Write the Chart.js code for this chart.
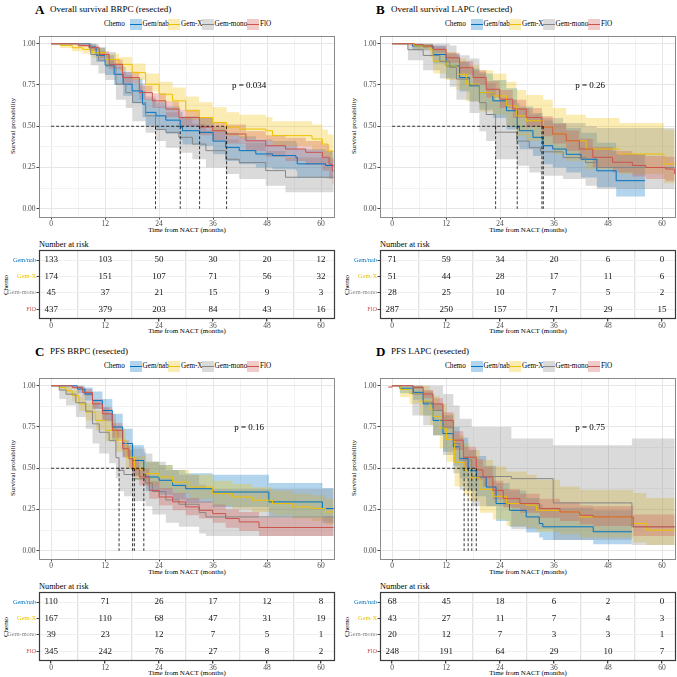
<!DOCTYPE html>
<html><head><meta charset="utf-8">
<script src="https://cdn.jsdelivr.net/npm/chart.js@4.4.1/dist/chart.umd.min.js"></script>
<style>
html,body{margin:0;padding:0;background:#fff;}
body{width:677px;height:677px;position:relative;overflow:hidden;font-family:"Liberation Serif","Times New Roman",serif;color:#000;}
.q{position:absolute;width:338px;height:340px;}
.t{position:absolute;white-space:nowrap;line-height:1;}
canvas{position:absolute;}
</style></head><body>
<script>
// ---------- categories & tick labels ----------
const SERIES = ['Gem/nab', 'Gem-X', 'Gem-mono', 'FlO'];
const KM_X_TICKS = [0, 6, 12, 18, 24, 30, 36, 42, 48, 54, 60];
const KM_Y_TICKS = [0, 0.125, 0.25, 0.375, 0.5, 0.625, 0.75, 0.875, 1];
const RISK_TIMES = [0, 12, 24, 36, 48, 60];
const P_VALUES = ['p = 0.034', 'p = 0.26', 'p = 0.16', 'p = 0.75'];

// ---------- Panel A: Overall survival BRPC ----------
const A_nab_t  = [0, 8.5, 10, 12, 14, 16, 18, 20.3, 21, 23.3, 25.5, 28.7, 29.2, 33, 36, 38.8, 41.8, 45.5, 49.2, 54.4, 54.7, 61, 62.8];
const A_nab_s  = [1, .98, .93, .87, .815, .755, .714, .634, .584, .563, .537, .495, .473, .463, .41, .372, .352, .332, .322, .312, .272, .262, .262];
const A_nab_lo = [1, .955, .89, .81, .75, .685, .64, .555, .505, .48, .455, .415, .39, .38, .33, .29, .27, .25, .24, .23, .19, .185, .185];
const A_nab_hi = [1, 1, .975, .93, .88, .83, .79, .715, .665, .645, .62, .585, .56, .55, .495, .46, .44, .42, .41, .40, .36, .35, .35];
const A_gx_t   = [0, 2, 4.7, 7, 9.2, 12.1, 15.1, 18, 21, 24, 27, 29.9, 32.9, 35.9, 39, 41.8, 47.7, 49.2, 58, 60.3, 61.5, 62.8];
const A_gx_s   = [1, .99, .976, .966, .946, .905, .875, .825, .755, .694, .654, .594, .553, .523, .495, .483, .473, .443, .423, .392, .35, .35];
const A_gx_lo  = [1, .975, .955, .94, .915, .87, .835, .78, .71, .645, .60, .54, .50, .465, .44, .425, .41, .38, .355, .32, .28, .28];
const A_gx_hi  = [1, 1, .995, .99, .975, .94, .92, .88, .82, .77, .735, .68, .645, .615, .585, .57, .555, .53, .51, .48, .45, .45];
const A_mono_t = [0, 8.8, 10.5, 12.1, 14.4, 16.6, 18.1, 21, 23.2, 25.5, 28.4, 31.4, 34.4, 38.8, 41.8, 47.7, 52.1, 62.8];
const A_mono_s = [1, .935, .90, .865, .755, .704, .644, .563, .48, .463, .433, .392, .352, .30, .28, .231, .191, .191];
const A_mono_lo= [1, .87, .82, .78, .66, .61, .53, .46, .41, .37, .34, .30, .25, .21, .18, .14, .10, .10];
const A_mono_hi= [1, 1, .98, .95, .86, .81, .76, .68, .62, .585, .555, .515, .475, .42, .40, .35, .31, .31];
const A_flo_t  = [0, 6, 8.4, 10.7, 12.9, 15.9, 19.6, 22.5, 25.5, 28.4, 33, 35.9, 38.8, 43.3, 47.7, 52.1, 56.6, 60.3, 61.8, 62.5, 62.8];
const A_flo_s  = [1, .99, .976, .935, .875, .795, .704, .654, .604, .553, .495, .473, .453, .412, .382, .362, .342, .312, .27, .23, .23];
const A_flo_lo = [1, .98, .96, .91, .845, .76, .66, .61, .555, .50, .445, .415, .395, .35, .315, .29, .265, .23, .18, .15, .15];
const A_flo_hi = [1, 1, .99, .955, .905, .83, .745, .70, .65, .60, .55, .525, .51, .47, .445, .43, .41, .39, .35, .30, .30];
const A_medians = [28.7, 39, 23.2, 33];
const A_risk_nab = [133, 103, 50, 30, 20, 12];
const A_risk_gx = [174, 151, 107, 71, 56, 32];
const A_risk_mono = [45, 37, 21, 15, 9, 3];
const A_risk_flo = [437, 379, 203, 84, 43, 16];

// ---------- Panel B: Overall survival LAPC ----------
const B_nab_t  = [0, 4.5, 9.1, 12, 15, 17.2, 19.4, 22.4, 25.4, 27.8, 28.3, 31.3, 33.5, 35.7, 38.7, 42, 45.5, 49.8, 56.2];
const B_nab_s  = [1, .986, .935, .865, .795, .745, .704, .654, .594, .495, .473, .433, .382, .362, .33, .30, .23, .17, .17];
const B_nab_lo = [1, .96, .88, .79, .71, .65, .60, .55, .48, .39, .36, .32, .27, .25, .22, .19, .13, .075, .075];
const B_nab_hi = [1, 1, .99, .94, .89, .85, .82, .78, .73, .64, .62, .58, .535, .52, .49, .46, .40, .33, .33];
const B_gx_t   = [0, 5, 8.4, 9.1, 12, 14.3, 16.5, 19.4, 22.4, 25.4, 27.6, 29.8, 33.6, 35.7, 38.7, 43.1, 50.5, 60.4, 62.8];
const B_gx_s   = [1, .986, .966, .895, .865, .815, .755, .704, .684, .624, .563, .533, .495, .453, .412, .362, .332, .272, .272];
const B_gx_lo  = [1, .96, .92, .82, .78, .72, .65, .59, .57, .50, .44, .41, .38, .33, .29, .24, .21, .155, .155];
const B_gx_hi  = [1, 1, 1, .97, .95, .91, .87, .84, .82, .77, .72, .69, .66, .61, .57, .55, .52, .48, .48];
const B_mono_t = [0, 3.5, 6.9, 10.6, 12.8, 14.3, 17.2, 19.4, 20.9, 23, 27.7, 30.5, 33, 38, 43, 45.5, 62.8];
const B_mono_s = [1, .964, .929, .893, .857, .786, .75, .643, .571, .464, .41, .37, .345, .31, .28, .25, .25];
const B_mono_lo= [1, .90, .84, .79, .74, .66, .58, .47, .41, .30, .26, .22, .20, .18, .14, .12, .12];
const B_mono_hi= [1, 1, 1, 1, .99, .93, .91, .83, .76, .66, .61, .57, .55, .52, .50, .49, .49];
const B_flo_t  = [0, 5, 6.9, 9.1, 12, 15, 18, 20.9, 23.9, 26.8, 29.8, 33.3, 35.7, 38.7, 41.6, 44.6, 49, 53.4, 56.4, 60.8, 62.8];
const B_flo_s  = [1, .995, .986, .966, .915, .855, .795, .724, .664, .604, .553, .495, .453, .412, .362, .312, .282, .262, .25, .241, .21];
const B_flo_lo = [1, .99, .975, .945, .885, .815, .75, .675, .61, .55, .495, .44, .395, .35, .30, .25, .22, .195, .18, .17, .135];
const B_flo_hi = [1, 1, .995, .985, .945, .895, .84, .775, .72, .66, .61, .56, .515, .475, .425, .375, .35, .33, .32, .315, .29];
const B_medians = [27.8, 33.6, 23, 33.3];
const B_risk_nab = [71, 59, 34, 20, 6, 0];
const B_risk_gx = [51, 44, 28, 17, 11, 6];
const B_risk_mono = [28, 25, 10, 7, 5, 2];
const B_risk_flo = [287, 250, 157, 71, 29, 15];

// ---------- Panel C: PFS BRPC ----------
const C_nab_t  = [0, 5.8, 7.5, 9.2, 11.4, 13.6, 15.9, 18.1, 20.6, 21, 24, 27, 29.9, 35.9, 48.4, 60.3, 62.8];
const C_nab_s  = [1, .98, .95, .91, .85, .75, .65, .547, .495, .447, .427, .396, .376, .356, .296, .256, .256];
const C_nab_lo = [1, .955, .91, .86, .785, .67, .565, .455, .41, .36, .34, .31, .29, .265, .21, .17, .17];
const C_nab_hi = [1, 1, .99, .965, .92, .83, .74, .64, .595, .54, .52, .49, .47, .46, .41, .38, .38];
const C_gx_t   = [0, 1.8, 3.3, 4.7, 6.2, 7.7, 9.9, 12.1, 14.4, 16.6, 18.5, 21, 24, 27, 30.7, 35.9, 40.3, 44.7, 49.2, 53.6, 58, 61, 62.8];
const C_gx_s   = [1, .99, .97, .94, .89, .84, .79, .73, .67, .567, .495, .467, .447, .416, .386, .346, .326, .306, .286, .266, .256, .235, .235];
const C_gx_lo  = [1, .975, .945, .905, .845, .79, .73, .665, .60, .495, .43, .395, .375, .345, .315, .275, .255, .235, .215, .195, .18, .16, .16];
const C_gx_hi  = [1, 1, .995, .975, .935, .895, .85, .795, .74, .64, .575, .54, .52, .49, .46, .425, .405, .385, .365, .345, .335, .315, .315];
const C_mono_t = [0, 1.8, 3.3, 5.5, 7.7, 9.2, 10.7, 12.9, 14.4, 15.1, 16.2, 18.1, 21, 22.5, 25.5, 28.4, 32.9, 34.4, 62.8];
const C_mono_s = [1, .974, .949, .897, .846, .769, .718, .667, .564, .487, .462, .436, .410, .359, .308, .282, .231, .205, .205];
const C_mono_lo= [1, .92, .88, .81, .74, .65, .59, .53, .44, .36, .33, .30, .27, .22, .17, .145, .105, .09, .09];
const C_mono_hi= [1, 1, 1, .99, .96, .90, .87, .83, .74, .66, .64, .62, .59, .54, .49, .46, .40, .375, .375];
const C_flo_t  = [0, 4.7, 7, 9.2, 11.4, 13.6, 15.9, 17.3, 18.1, 19.6, 21.8, 24, 27, 29.9, 32.9, 35.9, 38.8, 41.8, 46.2, 62.8];
const C_flo_s  = [1, .99, .96, .89, .83, .73, .618, .557, .495, .447, .366, .326, .296, .266, .245, .225, .195, .175, .141, .141];
const C_flo_lo = [1, .98, .94, .86, .79, .685, .57, .505, .45, .395, .315, .275, .245, .215, .195, .17, .14, .12, .09, .09];
const C_flo_hi = [1, 1, .98, .92, .87, .775, .67, .61, .555, .50, .42, .38, .35, .32, .30, .28, .25, .235, .20, .20];
const C_medians = [20.6, 18.5, 15.1, 18.1];
const C_risk_nab = [110, 71, 26, 17, 12, 8];
const C_risk_gx = [167, 110, 68, 47, 31, 19];
const C_risk_mono = [39, 23, 12, 7, 5, 1];
const C_risk_flo = [345, 242, 76, 27, 8, 2];

// ---------- Panel D: PFS LAPC ----------
const D_nab_t  = [0, 1.7, 4.7, 6.9, 9.1, 11.3, 13.6, 15, 16.9, 18.7, 20.9, 23.1, 26.1, 29.8, 32.7, 33.5, 44.7, 53.3];
const D_nab_s  = [1, .985, .96, .89, .79, .71, .63, .56, .485, .447, .386, .286, .245, .205, .165, .145, .115, .115];
const D_nab_lo = [1, .955, .915, .82, .70, .60, .515, .44, .365, .33, .27, .18, .145, .11, .08, .065, .04, .04];
const D_nab_hi = [1, 1, 1, .965, .89, .82, .75, .685, .61, .575, .515, .41, .365, .32, .28, .26, .245, .245];
const D_gx_t   = [0, 1.8, 3.9, 6.1, 8.4, 9.1, 10.6, 12.1, 13.9, 16, 17.2, 19.5, 22.4, 25.4, 29.9, 32.1, 37.3, 41.7, 53.6, 56.5, 62.8];
const D_gx_s   = [1, .977, .953, .907, .86, .814, .744, .674, .535, .488, .442, .372, .33, .286, .276, .245, .235, .205, .165, .125, .125];
const D_gx_lo  = [1, .93, .89, .82, .76, .70, .62, .54, .39, .34, .30, .23, .19, .15, .14, .115, .10, .08, .05, .035, .035];
const D_gx_hi  = [1, 1, 1, 1, .97, .94, .89, .83, .70, .65, .61, .55, .51, .48, .46, .43, .39, .37, .35, .32, .32];
const D_mono_t = [0, 4.5, 6.9, 9.1, 11.3, 13.6, 15, 17.7, 26.5, 35.8, 53.3, 62.8];
const D_mono_s = [1, .95, .90, .85, .75, .65, .55, .45, .437, .29, .145, .145];
const D_mono_lo= [1, .82, .76, .70, .58, .47, .37, .27, .13, .065, .035, .035];
const D_mono_hi= [1, 1, 1, 1, .95, .88, .80, .75, .68, .64, .68, .68];
const D_flo_t  = [-0.9, 0, 4.7, 6.9, 9.1, 11.3, 13.6, 15.8, 18.7, 20.2, 22.4, 24.7, 28.4, 32.8, 37.3, 41.7, 44.7, 53.6, 62.8];
const D_flo_s  = [.992, 1, .99, .95, .89, .79, .67, .567, .49, .447, .366, .316, .286, .256, .235, .215, .205, .145, .145];
const D_flo_lo = [.992, 1, .98, .925, .85, .74, .61, .505, .43, .39, .31, .26, .23, .20, .18, .16, .15, .09, .09];
const D_flo_hi = [.992, 1, 1, .975, .925, .84, .725, .63, .555, .51, .425, .375, .345, .315, .295, .275, .27, .22, .21];
const D_medians = [16.9, 16, 17.7, 18.7];
const D_risk_nab = [68, 45, 18, 6, 2, 0];
const D_risk_gx = [43, 27, 11, 7, 4, 3];
const D_risk_mono = [20, 12, 7, 3, 3, 1];
const D_risk_flo = [248, 191, 64, 29, 10, 7];

// ---------- styles ----------
const COLORS = ['#0073C2', '#EFC000', '#868686', '#CD534C'];
const FILLS = ['rgba(0,115,194,0.3)', 'rgba(239,192,0,0.3)', 'rgba(134,134,134,0.3)', 'rgba(205,83,76,0.3)'];
const FONT = '"Liberation Serif", "Times New Roman", serif';
Chart.defaults.font.family = FONT;

const PANELS = [
  {letter: 'A', title: 'Overall survival BRPC (resected)', ox: 0, oy: 0, p: P_VALUES[0], med: A_medians,
   curves: [[A_nab_t, A_nab_s, A_nab_lo, A_nab_hi], [A_gx_t, A_gx_s, A_gx_lo, A_gx_hi], [A_mono_t, A_mono_s, A_mono_lo, A_mono_hi], [A_flo_t, A_flo_s, A_flo_lo, A_flo_hi]],
   risk: [A_risk_nab, A_risk_gx, A_risk_mono, A_risk_flo]},
  {letter: 'B', title: 'Overall survival LAPC (resected)', ox: 341, oy: 0, p: P_VALUES[1], med: B_medians,
   curves: [[B_nab_t, B_nab_s, B_nab_lo, B_nab_hi], [B_gx_t, B_gx_s, B_gx_lo, B_gx_hi], [B_mono_t, B_mono_s, B_mono_lo, B_mono_hi], [B_flo_t, B_flo_s, B_flo_lo, B_flo_hi]],
   risk: [B_risk_nab, B_risk_gx, B_risk_mono, B_risk_flo]},
  {letter: 'C', title: 'PFS BRPC (resected)', ox: 0, oy: 342, p: P_VALUES[2], med: C_medians,
   curves: [[C_nab_t, C_nab_s, C_nab_lo, C_nab_hi], [C_gx_t, C_gx_s, C_gx_lo, C_gx_hi], [C_mono_t, C_mono_s, C_mono_lo, C_mono_hi], [C_flo_t, C_flo_s, C_flo_lo, C_flo_hi]],
   risk: [C_risk_nab, C_risk_gx, C_risk_mono, C_risk_flo]},
  {letter: 'D', title: 'PFS LAPC (resected)', ox: 341, oy: 342, p: P_VALUES[3], med: D_medians,
   curves: [[D_nab_t, D_nab_s, D_nab_lo, D_nab_hi], [D_gx_t, D_gx_s, D_gx_lo, D_gx_hi], [D_mono_t, D_mono_s, D_mono_lo, D_mono_hi], [D_flo_t, D_flo_s, D_flo_lo, D_flo_hi]],
   risk: [D_risk_nab, D_risk_gx, D_risk_mono, D_risk_flo]}
];

// ---------- plugins ----------
const boxPlugin = { id: 'box', afterDatasetsDraw(chart, args, o) {
  const a = chart.chartArea, ctx = chart.ctx; ctx.save();
  ctx.strokeStyle = o.color || '#888'; ctx.lineWidth = o.width || 1;
  ctx.strokeRect(Math.round(a.left) + 0.5, Math.round(a.top) + 0.5, Math.round(a.right - a.left) - 1, Math.round(a.bottom - a.top) - 1);
  ctx.restore(); } };
const pPlugin = { id: 'ptext', afterDatasetsDraw(chart, args, o) {
  if (!o || !o.text) return; const ctx = chart.ctx; ctx.save();
  ctx.font = '9px ' + FONT; ctx.fillStyle = '#000'; ctx.textAlign = 'center'; ctx.textBaseline = 'middle';
  ctx.fillText(o.text, chart.scales.x.getPixelForValue(o.x), chart.scales.y.getPixelForValue(o.y));
  ctx.restore(); } };
const riskPlugin = { id: 'risknum', afterDatasetsDraw(chart) {
  const ctx = chart.ctx; ctx.save();
  ctx.font = '9px ' + FONT; ctx.fillStyle = '#111'; ctx.textAlign = 'center'; ctx.textBaseline = 'middle';
  chart.data.datasets.forEach((ds, i) => { chart.getDatasetMeta(i).data.forEach((el, j) => { ctx.fillText(String(ds.data[j].n), el.x, el.y); }); });
  ctx.restore(); } };

// ---------- helpers ----------
function txt(parent, s, x, y, size, opt = {}) {
  const d = document.createElement('div'); d.className = 't'; d.textContent = s;
  d.style.fontSize = size + 'px'; d.style.left = x + 'px'; d.style.top = y + 'px';
  let tr = opt.center ? 'translate(-50%,-50%)' : 'translateY(-50%)';
  if (opt.rot) tr += ' rotate(-90deg)';
  d.style.transform = tr;
  if (opt.bold) d.style.fontWeight = 'bold';
  if (opt.color) d.style.color = opt.color;
  parent.appendChild(d);
}
function key(parent, x, y, i) {
  const b = document.createElement('div');
  b.style.cssText = `position:absolute;left:${x}px;top:${y}px;width:12px;height:11px;background:${FILLS[i]};`;
  const l = document.createElement('div');
  l.style.cssText = `position:absolute;left:0;top:5px;width:12px;height:1px;background:${COLORS[i]};`;
  b.appendChild(l); parent.appendChild(b);
}
function canvas(parent, x, y, w, h) {
  const c = document.createElement('canvas'); c.width = w; c.height = h;
  c.style.left = x + 'px'; c.style.top = y + 'px'; c.style.width = w + 'px'; c.style.height = h + 'px';
  parent.appendChild(c); return c;
}
const pts = (t, v) => t.map((x, i) => ({x, y: v[i]}));
const isMajorX = v => Math.abs(v % 12) < 1e-9;
const isMajorY = v => Math.abs(v * 4 - Math.round(v * 4)) < 1e-9;

// ---------- build ----------
PANELS.forEach(P => {
  const q = document.createElement('div'); q.className = 'q';
  q.style.left = P.ox + 'px'; q.style.top = P.oy + 'px'; document.body.appendChild(q);

  txt(q, P.letter, 35, 8.5, 13, {bold: true});
  txt(q, P.title, 50, 8.5, 9);
  txt(q, 'Chemo', 104, 24.5, 7.2);
  const keyX = [129.5, 168, 202, 247], labX = [142.5, 181, 214.5, 260];
  SERIES.forEach((s, i) => { key(q, keyX[i], 19, i); txt(q, s, labX[i], 24.5, 7.2); });
  txt(q, 'Survival probability', 13, 125.5, 7, {center: true, rot: true});
  txt(q, 'Time from NACT (months)', 187, 230, 7, {center: true});
  txt(q, 'Number at risk', 39, 244.5, 8.3);
  txt(q, 'Chemo', 6, 285, 7, {center: true, rot: true});
  txt(q, 'Time from NACT (months)', 187, 330.5, 7, {center: true});

  // ---- KM chart ----
  const ds = [];
  P.curves.forEach((c, i) => {
    ds.push({data: pts(c[0], c[3]), fill: '+1', backgroundColor: FILLS[i], borderColor: 'rgba(0,0,0,0)', borderWidth: 0, pointRadius: 0, stepped: true, order: 30 - i});
    ds.push({data: pts(c[0], c[2]), fill: false, borderColor: 'rgba(0,0,0,0)', borderWidth: 0, pointRadius: 0, stepped: true, order: 30 - i});
  });
  P.curves.forEach((c, i) => {
    ds.push({data: pts(c[0], c[1]), fill: false, borderColor: COLORS[i], borderWidth: 1, pointRadius: 0, stepped: true, order: 20 - i});
  });
  const dash = {fill: false, borderColor: '#000', borderWidth: 0.8, borderDash: [3, 2], pointRadius: 0, order: 1};
  ds.push(Object.assign({data: [{x: 0, y: 0.5}, {x: Math.max(...P.med), y: 0.5}]}, dash));
  P.med.forEach(m => ds.push(Object.assign({data: [{x: m, y: 0.5}, {x: m, y: 0}]}, dash)));

  new Chart(canvas(q, 0, 30, 336, 206), {
    type: 'line', data: {datasets: ds},
    options: {
      responsive: false, animation: false, devicePixelRatio: 1,
      layout: {padding: {left: 0, right: 1, top: 4, bottom: 0}},
      plugins: {legend: {display: false}, tooltip: {enabled: false}, box: {color: '#8a8a8a', width: 1}, ptext: {text: P.p, x: 44, y: 0.745}},
      scales: {
        x: {type: 'linear', min: -2.7, max: 63.1,
            afterBuildTicks: s => { s.ticks = KM_X_TICKS.map(v => ({value: v})); },
            afterFit: s => { s.height = 19; },
            ticks: {autoSkip: false, maxRotation: 0, padding: 0.5, color: '#4d4d4d', font: {size: 7.5, family: FONT}, callback: v => isMajorX(v) ? String(v) : ''},
            grid: {color: c => (c.tick && isMajorX(c.tick.value)) ? '#e6e6e6' : '#f2f2f2', lineWidth: 1,
                   tickColor: c => (c.tick && isMajorX(c.tick.value)) ? '#444' : 'rgba(0,0,0,0)', tickLength: 2.5},
            border: {display: false}},
        y: {type: 'linear', min: -0.05, max: 1.05,
            afterBuildTicks: s => { s.ticks = KM_Y_TICKS.map(v => ({value: v})); },
            afterFit: s => { s.width = 39; },
            ticks: {autoSkip: false, padding: 1, color: '#4d4d4d', font: {size: 7.5, family: FONT}, callback: v => isMajorY(v) ? v.toFixed(2) : ''},
            grid: {color: c => (c.tick && isMajorY(c.tick.value)) ? '#e6e6e6' : '#f2f2f2', lineWidth: 1,
                   tickColor: c => (c.tick && isMajorY(c.tick.value)) ? '#444' : 'rgba(0,0,0,0)', tickLength: 2.5},
            border: {display: false}}
      }
    },
    plugins: [boxPlugin, pPlugin]
  });

  // ---- risk table ----
  const rds = P.risk.map((r, i) => ({
    data: RISK_TIMES.map((t, j) => ({x: t, y: 4 - i, n: r[j]})),
    showLine: false, pointRadius: 0, borderColor: 'rgba(0,0,0,0)'
  }));
  new Chart(canvas(q, 0, 246, 336, 84), {
    type: 'line', data: {datasets: rds},
    options: {
      responsive: false, animation: false, devicePixelRatio: 1,
      layout: {padding: {left: 0, right: 1, top: 4, bottom: 0}},
      plugins: {legend: {display: false}, tooltip: {enabled: false}, box: {color: '#3a3a3a', width: 1.2}},
      scales: {
        x: {type: 'linear', min: -2.7, max: 63.1,
            afterBuildTicks: s => { s.ticks = KM_X_TICKS.map(v => ({value: v})); },
            afterFit: s => { s.height = 11; },
            ticks: {autoSkip: false, maxRotation: 0, padding: 0.5, color: '#4d4d4d', font: {size: 7.5, family: FONT}, callback: v => isMajorX(v) ? String(v) : ''},
            grid: {color: c => (c.tick && isMajorX(c.tick.value)) ? 'rgba(0,0,0,0)' : '#e2e2e2', lineWidth: 1.3,
                   tickColor: c => (c.tick && isMajorX(c.tick.value)) ? '#444' : 'rgba(0,0,0,0)', tickLength: 2.5},
            border: {display: false}},
        y: {type: 'linear', min: 0.4, max: 4.6,
            afterBuildTicks: s => { s.ticks = [1, 2, 3, 4].map(v => ({value: v})); },
            afterFit: s => { s.width = 39; },
            ticks: {autoSkip: false, padding: 0.5, font: {size: 6.3, family: FONT},
                    color: c => COLORS[4 - c.tick.value], callback: v => SERIES[4 - v]},
            grid: {color: '#efefef', lineWidth: 1, tickColor: '#444', tickLength: 2.5},
            border: {display: false}}
      }
    },
    plugins: [boxPlugin, riskPlugin]
  });
});
</script>
</body></html>
